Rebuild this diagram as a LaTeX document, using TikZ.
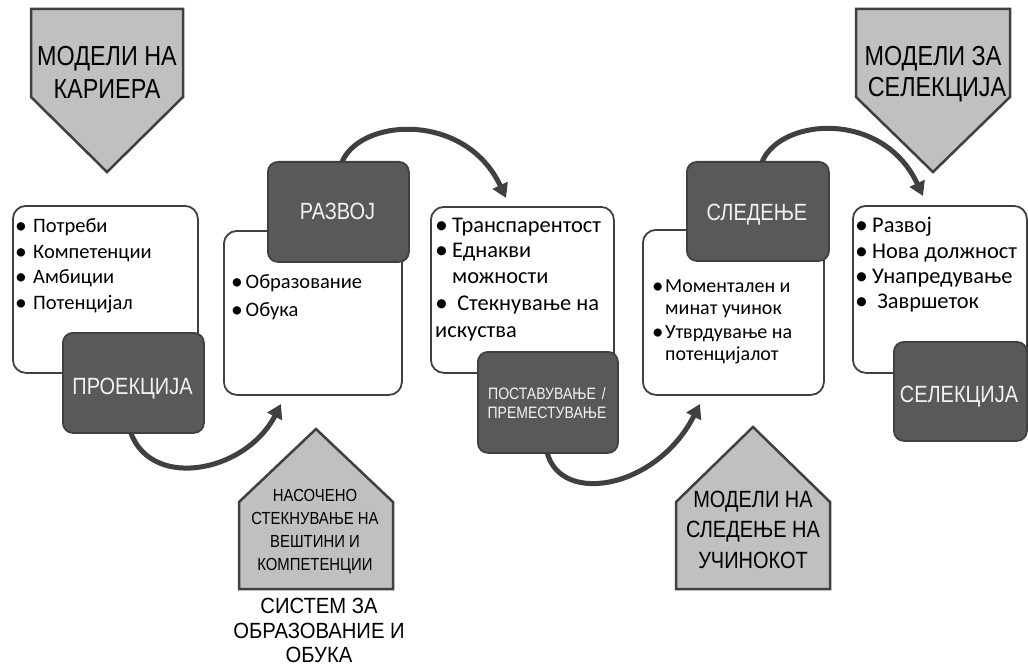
\documentclass[tikz,border=0pt]{standalone}
\usepackage{fontspec}
\usepackage{graphicx}
\setmainfont{Carlito}
\newfontfamily\labf[FakeStretch=0.85]{Liberation Sans}
\newfontfamily\capf[FakeStretch=0.92]{Liberation Sans}
\usetikzlibrary{arrows.meta,calc}
\definecolor{edge}{HTML}{404040}
\definecolor{dark}{HTML}{595959}
\definecolor{pent}{HTML}{C0C0C0}
\definecolor{lt}{HTML}{F2F2F2}
\pgfdeclarelayer{bg}
\pgfsetlayers{bg,main}
\newcommand\mybul[1]{\makebox[#1pt][l]{\raisebox{-0.05em}{\scalebox{1.15}{•}}}}
\tikzset{
  wbox/.style={draw=edge, line width=1.8pt, fill=white, rounded corners=13pt, inner sep=0pt, anchor=north west},
  dbox/.style={draw=edge, line width=1.8pt, fill=dark, rounded corners=10pt, inner sep=0pt, anchor=north west},
  pentagon/.style={draw=edge, fill=pent, line width=2.5pt, line join=miter},
  txt/.style={inner sep=0pt, text height=0.68em, text depth=0.18em},
  bt/.style={txt, anchor=base west, font=\fontsize{20.5}{24}\selectfont},
  btl/.style={txt, anchor=base west, font=\fontsize{22.4}{26}\selectfont},
  bts/.style={txt, anchor=base west, font=\fontsize{20}{22}\selectfont},
  dl/.style={txt, anchor=base, text=lt, font=\labf\fontsize{23.5}{28}\selectfont},
  dls/.style={txt, anchor=base, text=lt, font=\labf\fontsize{16.5}{20}\selectfont},
  pl/.style={txt, anchor=base, font=\labf\fontsize{27.5}{33}\selectfont},
  hl/.style={txt, anchor=base, font=\labf\fontsize{17.5}{21}\selectfont},
  hl2/.style={txt, anchor=base, font=\labf\fontsize{23.5}{28}\selectfont},
  cl/.style={txt, anchor=base, font=\capf\fontsize{22}{26}\selectfont},
  arc/.style={draw=edge, line width=5pt, -{Triangle[length=14pt,width=16pt]}},
}
\begin{document}
\begin{tikzpicture}[x=1pt,y=-1pt]
\useasboundingbox (0,0) rectangle (1028,666);

% top pentagons
\draw[pentagon] (31,9) -- (183,9) -- (183,97) -- (107,172) -- (31,97) -- cycle;
\node[pl] (p1a) at (107,66) {МОДЕЛИ НА};
\node[pl] (p1b) at (107,99) {КАРИЕРА};
\draw[pentagon] (856,9) -- (1010,9) -- (1010,97) -- (933,172) -- (856,97) -- cycle;
\node[pl] (p2a) at (933,66) {МОДЕЛИ ЗА};
\node[pl] (p2b) at (937,97) {СЕЛЕКЦИЈА};

% bottom houses
\draw[pentagon] (239,589) -- (239,502) -- (316,429) -- (393,502) -- (393,589) -- cycle;
\node[hl] (h1a) at (315,501) {НАСОЧЕНО};
\node[hl] (h1b) at (315,524) {СТЕКНУВАЊЕ НА};
\node[hl] (h1c) at (315,547) {ВЕШТИНИ И};
\node[hl] (h1d) at (315,570) {КОМПЕТЕНЦИИ};
\node[cl] (c1) at (319,613) {СИСТЕМ ЗА};
\node[cl] (c2) at (319,638) {ОБРАЗОВАНИЕ И};
\node[cl] (c3) at (319,662) {ОБУКА};

\draw[pentagon] (676,589) -- (676,502) -- (753,427) -- (830,502) -- (830,589) -- cycle;
\node[hl2] (h2a) at (753,507) {МОДЕЛИ НА};
\node[hl2] (h2b) at (753,537) {СЛЕДЕЊЕ НА};
\node[hl2] (h2c) at (753,568) {УЧИНОКОТ};

% white boxes
\node[wbox, minimum width=185pt, minimum height=167pt] (w1) at (12,205) {};
\node[wbox, minimum width=178pt, minimum height=164pt] (w2) at (223,230) {};
\node[wbox, minimum width=183pt, minimum height=166pt] (w3) at (430,206) {};
\node[wbox, minimum width=181pt, minimum height=165pt] (w4) at (642,229) {};
\node[wbox, minimum width=174pt, minimum height=167pt] (w5) at (852,205) {};

% dark boxes
\node[dbox, minimum width=141pt, minimum height=100pt] (proj) at (62,332) {};
\node[dbox, minimum width=141pt, minimum height=100pt] (razv) at (267,161) {};
\node[dbox, minimum width=140pt, minimum height=101pt] (post) at (477,351) {};
\node[dbox, minimum width=142pt, minimum height=99pt] (sled) at (686,161) {};
\node[dbox, minimum width=133pt, minimum height=99pt] (selk) at (893,341) {};

% dark box labels
\node[dl] (tproj) at (132.5,394) {ПРОЕКЦИЈА};
\node[dl] (trazv) at (337.5,219) {РАЗВОЈ};
\node[dl] (tsled) at (757,220) {СЛЕДЕЊЕ};
\node[dl] (tselk) at (959,402) {СЕЛЕКЦИЈА};
\node[dls] (tposta) at (547,399) {ПОСТАВУВАЊЕ\hspace{6pt}/};
\node[dls] (tpostb) at (547,418) {ПРЕМЕСТУВАЊЕ};

% bullets box 1
\node[bt] (b1a) at (15,232) {\mybul{18}Потреби};
\node[bt] (b1b) at (15,258) {\mybul{18}Компетенции};
\node[bt] (b1c) at (15,283) {\mybul{18}Амбиции};
\node[bt] (b1d) at (15,309) {\mybul{18}Потенцијал};
% box 2
\node[bt] (b2a) at (231,288) {\mybul{14.5}Образование};
\node[bt] (b2b) at (231,316) {\mybul{14.5}Обука};
% box 3
\node[btl] (b3a) at (435,232) {\mybul{17}Транспарентост};
\node[btl] (b3b) at (435,257) {\mybul{17}Еднакви};
\node[btl] (b3c) at (452,283) {можности};
\node[btl] (b3d) at (435,310) {\mybul{17}\ Стекнување на};
\node[btl] (b3e) at (435,337) {искуства};
% box 4
\node[bts] (b4a) at (652,292) {\mybul{13}Моментален и};
\node[bts] (b4b) at (665,314) {минат учинок};
\node[bts] (b4c) at (652,338) {\mybul{13}Утврдување на};
\node[bts] (b4d) at (665,360) {потенцијалот};
% box 5
\node[btl] (b5a) at (855,232) {\mybul{17}Развој};
\node[btl] (b5b) at (855,258) {\mybul{17}Нова должност};
\node[btl] (b5c) at (855,283) {\mybul{17}Унапредување};
\node[btl] (b5d) at (855,308) {\mybul{17}\ Завршеток};

% arrow tips
\coordinate (tip1) at (281,404);
\coordinate (tip2) at (506,198);
\coordinate (tip3) at (700,404);
\coordinate (tip4) at (923,196);

\begin{pgfonlayer}{bg}
\draw[arc] ($(proj.south)+(-4.5,-7)$) .. controls +(17,65) and +(-36,70) .. (tip1);
\draw[arc] ($(razv.north)+(2.5,4)$) .. controls +(15,-47) and +(-41,-88) .. (tip2);
\draw[arc] ($(post.south)+(-2,-8)$) .. controls +(7,61) and +(-45,88) .. (tip3);
\draw[arc] ($(sled.north)+(3,4)$) .. controls +(15,-47) and +(-41,-88) .. (tip4);
\end{pgfonlayer}
\end{tikzpicture}
\end{document}
